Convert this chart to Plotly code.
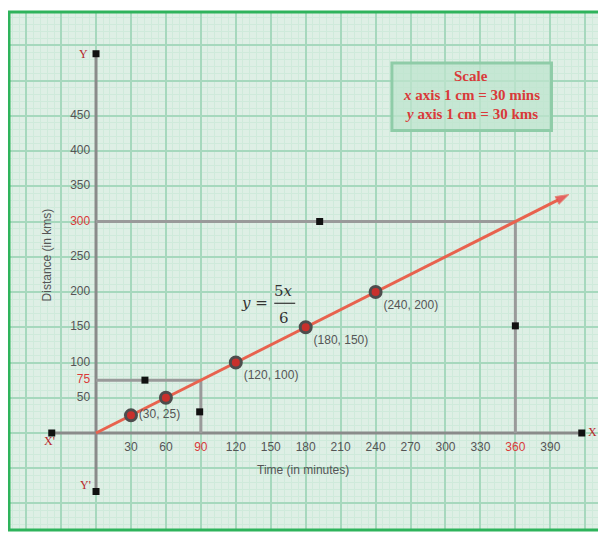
import plotly.graph_objects as go

# data
point_x = [30, 60, 120, 180, 240]
point_y = [25, 50, 100, 150, 200]
point_text = ["(30, 25)", "", "(120, 100)", "(180, 150)", "(240, 200)"]

line_x = [0, 406]
line_y = [0, 406 * 5 / 6]

x_ticks = [30, 60, 90, 120, 150, 180, 210, 240, 270, 300, 330, 360, 390]
y_ticks = [50, 75, 100, 150, 200, 250, 300, 350, 400, 450]
x_red = [90, 360]
y_red = [75, 300]

# guide lines: (90, 75) and (360, 300)
guide_small_x = [0, 90, 90]
guide_small_y = [75, 75, 0]
guide_big_x = [0, 360, 360]
guide_big_y = [300, 300, 0]
guide_marks_x = [42, 89, 192, 360]
guide_marks_y = [75, 30, 300, 152]

# axis ends X', X, Y, Y'
axis_x_ends = [-38, 417]
axis_y_ends = [-83, 538]

RED = "#d93a3a"
GRAY = "#8a8a8a"
TICK = "#555555"

fig = go.Figure()

# axes
fig.add_trace(go.Scatter(
    x=axis_x_ends, y=[0, 0], mode="lines+markers",
    line=dict(color=GRAY, width=3),
    marker=dict(symbol="square", size=7, color="#111"),
))
fig.add_trace(go.Scatter(
    x=[0, 0], y=axis_y_ends, mode="lines+markers",
    line=dict(color=GRAY, width=3),
    marker=dict(symbol="square", size=7, color="#111"),
))

# guide lines
for gx, gy in [(guide_small_x, guide_small_y), (guide_big_x, guide_big_y)]:
    fig.add_trace(go.Scatter(
        x=gx, y=gy, mode="lines",
        line=dict(color="#9a9a9a", width=3),
    ))
fig.add_trace(go.Scatter(
    x=guide_marks_x, y=guide_marks_y, mode="markers",
    marker=dict(symbol="square", size=7, color="#111"),
))

# y = 5x/6
fig.add_trace(go.Scatter(
    x=line_x, y=line_y, mode="lines+markers",
    line=dict(color="#e8624e", width=3),
    marker=dict(symbol=["circle", "arrow"], size=[0, 14], color="#e8262a",
                angleref="previous"),
))

# points
fig.add_trace(go.Scatter(
    x=point_x, y=point_y, mode="markers+text",
    marker=dict(size=11, color="#c8302c", line=dict(color="#4d4d4d", width=3)),
    text=point_text,
    textposition=["middle right"] + ["bottom right"] * (len(point_x) - 1),
    textfont=dict(family="Liberation Sans", size=12, color=TICK),
))

# tick labels
fig.add_trace(go.Scatter(
    x=x_ticks, y=[-21] * len(x_ticks), mode="text",
    text=[str(v) for v in x_ticks],
    textfont=dict(family="Liberation Sans", size=12,
                  color=[RED if v in x_red else TICK for v in x_ticks]),
))
fig.add_trace(go.Scatter(
    x=[-5] * len(y_ticks), y=y_ticks, mode="text",
    text=[str(v) for v in y_ticks], textposition="middle left",
    textfont=dict(family="Liberation Sans", size=12,
                  color=[RED if v in y_red else TICK for v in y_ticks]),
))

anns = [
    dict(x=178, y=-53, text="Time (in minutes)", textangle=0,
         font=dict(family="Liberation Sans", size=12, color=TICK)),
    dict(x=-42, y=252, text="Distance (in kms)", textangle=-90,
         font=dict(family="Liberation Sans", size=12, color=TICK)),
    dict(x=-40, y=-12, text="X'", font=dict(family="Liberation Serif", size=12, color="#b8262b")),
    dict(x=426, y=1, text="X", font=dict(family="Liberation Serif", size=12, color="#b8262b")),
    dict(x=-11, y=538, text="Y", font=dict(family="Liberation Serif", size=12, color="#b8262b")),
    dict(x=-9, y=-74, text="Y'", font=dict(family="Liberation Serif", size=12, color="#b8262b")),
    # equation
    dict(x=136, y=184, text="<i>y</i> =", font=dict(family="DejaVu Serif", size=15, color="#333")),
    dict(x=161, y=202, text="5<i>x</i>", font=dict(family="DejaVu Serif", size=15, color="#333")),
    dict(x=161, y=163, text="6", font=dict(family="DejaVu Serif", size=15, color="#333")),
    # scale box
    dict(x=322, y=506, text="<b>Scale</b>",
         font=dict(family="Liberation Serif", size=15, color=RED)),
    dict(x=322, y=479, text="<b><i>x</i> axis 1 cm = 30 mins</b>",
         font=dict(family="Liberation Serif", size=15, color=RED)),
    dict(x=322, y=452, text="<b><i>y</i> axis 1 cm = 30 kms</b>",
         font=dict(family="Liberation Serif", size=15, color=RED)),
]
for a in anns:
    a.update(xref="x", yref="y", showarrow=False)
fig.update_layout(annotations=anns)

fig.add_shape(type="line", x0=153, x1=171, y0=184, y1=184,
              line=dict(color="#333", width=1.2))
fig.add_shape(type="rect", x0=254, x1=391, y0=429, y1=525,
              fillcolor="rgba(190,228,205,0.75)",
              line=dict(color="#8fcca8", width=3), layer="above")
fig.add_shape(type="rect", xref="paper", yref="paper", x0=0, x1=1, y0=0, y1=1,
              line=dict(color="#2eb35b", width=3))

fig.update_layout(
    width=598, height=527,
    margin=dict(l=1, r=0, t=4, b=5),
    paper_bgcolor="white",
    plot_bgcolor="#deefe5",
    showlegend=False,
    xaxis=dict(
        range=[-74.7, 437.8], tick0=0, dtick=30,
        showgrid=True, gridcolor="#a6d8bd", gridwidth=2,
        minor=dict(tick0=0, dtick=6, showgrid=True, gridcolor="#cfeadb", gridwidth=1),
        zeroline=False, showticklabels=False, ticks="", fixedrange=True,
    ),
    yaxis=dict(
        range=[-137.6, 597.2], tick0=0, dtick=50,
        showgrid=True, gridcolor="#a6d8bd", gridwidth=2,
        minor=dict(tick0=0, dtick=10, showgrid=True, gridcolor="#cfeadb", gridwidth=1),
        zeroline=False, showticklabels=False, ticks="", fixedrange=True,
    ),
)

fig.write_html("out.html")
